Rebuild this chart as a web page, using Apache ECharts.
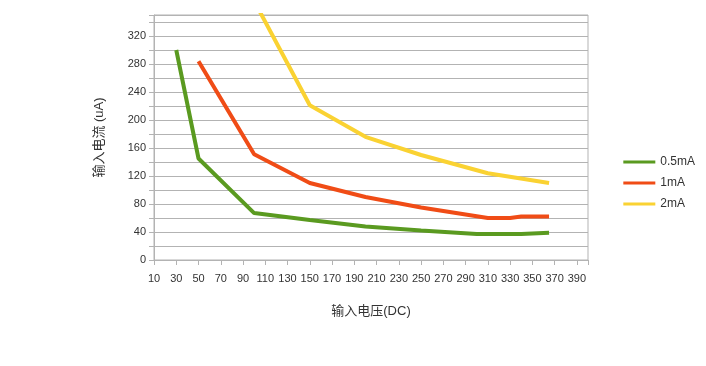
<!DOCTYPE html>
<html><head><meta charset="utf-8">
<script src="https://cdn.jsdelivr.net/npm/echarts@6/dist/echarts.min.js"></script>
<style>html,body{margin:0;padding:0;background:#fff}#c{width:706px;height:366px}</style>
</head><body><div id="c"></div>
<script>
const seriesNames = ['0.5mA', '1mA', '2mA'];
const green05 = [[30,300],[50,145],[100,67],[150,57],[200,48],[250,42],[300,37],[340,37],[365,39]];
const red1 = [[50,284],[100,151],[150,110],[200,90],[250,75],[310,60],[330,60],[340,62],[365,62]];
const yellow2 = [[100,370],[150,221],[200,176],[250,150],[310,124],[365,110]];
const colors = ['#5a9a20', '#f04c16', '#fad232'];
const xName = '输入电压(DC)';
const yName = '输入电流 (uA)';
const font = '"Liberation Sans", "Noto Sans CJK SC", sans-serif';

const chart = echarts.init(document.getElementById('c'));
const data = [green05, red1, yellow2];
chart.setOption({
  animation: false,
  textStyle: {fontFamily: font},
  grid: {left: 154, right: 118, top: 15, bottom: 106, show: true, borderColor: '#b3b3b3', borderWidth: 1, containLabel: false},
  legend: {
    orient: 'vertical', right: 6, top: 151, itemWidth: 32, itemHeight: 3, itemGap: 9,
    icon: 'rect',
    textStyle: {fontFamily: font, fontSize: 12, color: '#333'},
    data: seriesNames
  },
  xAxis: {
    type: 'value', min: 10, max: 400, interval: 20,
    name: xName, nameLocation: 'middle', nameGap: 45,
    nameTextStyle: {fontFamily: font, fontSize: 13, color: '#333'},
    axisLine: {lineStyle: {color: '#b3b3b3'}},
    axisTick: {show: true, length: 5, lineStyle: {color: '#b3b3b3'}},
    axisLabel: {fontSize: 11, color: '#333', margin: 13, formatter: v => v === 400 ? '' : String(v)},
    splitLine: {show: false}
  },
  yAxis: {
    type: 'value', min: 0, max: 350, interval: 20,
    name: yName, nameLocation: 'middle', nameGap: 48, nameRotate: 90,
    nameTextStyle: {fontFamily: font, fontSize: 13, color: '#333'},
    axisLine: {show: true, lineStyle: {color: '#b3b3b3'}},
    axisTick: {show: true, length: 5, lineStyle: {color: '#b3b3b3'}},
    axisLabel: {fontSize: 11, color: '#333', margin: 8, formatter: v => (v % 40 === 0 && v <= 320) ? String(v) : ''},
    splitLine: {show: true, lineStyle: {color: '#b3b3b3'}}
  },
  series: data.map((d, i) => ({
    name: seriesNames[i], type: 'line', data: d, showSymbol: false, symbol: 'none',
    clip: true, lineStyle: {width: 4, color: colors[i]}, itemStyle: {color: colors[i]}
  }))
});
</script></body></html>
